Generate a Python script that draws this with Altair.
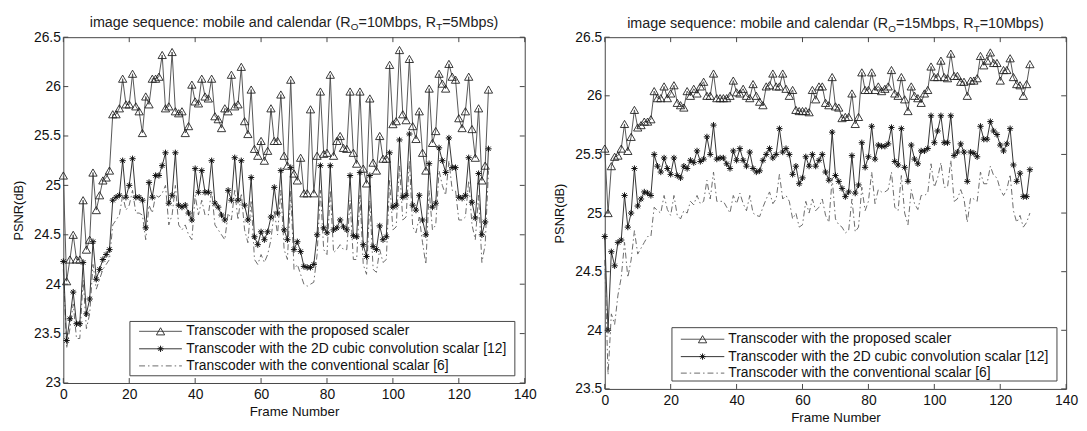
import altair as alt
import pandas as pd

frames = list(range(130))

left_proposed = [
    25.10, 24.03, 24.25, 24.50, 24.25, 24.25, 24.85, 24.35, 24.45, 25.13,
    24.75, 24.90, 25.05, 25.08, 25.15, 25.72, 25.72, 25.78, 26.08, 25.82,
    25.82, 26.13, 25.80, 25.75, 25.53, 25.90, 25.82, 26.08, 26.08, 26.10,
    26.32, 25.78, 25.80, 26.35, 25.75, 25.73, 25.75, 25.53, 25.60, 26.02,
    25.85, 25.83, 26.08, 25.90, 25.88, 26.08, 25.70, 25.67, 25.58, 25.78,
    25.75, 26.12, 25.80, 25.82, 26.20, 25.65, 25.52, 25.97, 25.37, 25.30,
    25.45, 25.25, 25.35, 25.78, 25.45, 25.45, 25.92, 25.30, 25.20, 26.07,
    25.12, 25.05, 25.28, 24.92, 24.92, 25.77, 24.92, 25.30, 25.95, 25.32,
    25.33, 26.12, 25.30, 25.45, 25.50, 25.38, 25.37, 25.95, 25.33, 25.22,
    25.95, 25.17, 25.02, 25.88, 25.23, 25.15, 25.50, 25.27, 25.27, 26.22,
    25.62, 25.65, 26.37, 25.72, 25.66, 26.28, 25.60, 25.47, 25.75, 25.33,
    25.15, 25.98, 25.43, 25.55, 26.13, 26.03, 25.98, 26.23, 26.10, 26.07,
    25.68, 25.58, 25.75, 26.10, 25.57, 25.28, 25.78, 25.05, 25.20, 25.97]

left_cubic = [
    24.23, 23.43, 23.65, 23.92, 23.60, 23.60, 24.22, 23.70, 23.85, 24.43,
    24.05, 24.15, 24.25, 24.30, 24.35, 24.85, 24.88, 24.90, 25.25, 24.88,
    25.00, 25.27, 24.88, 24.88, 24.85, 24.57, 25.03, 24.88, 25.10, 25.10,
    25.20, 25.33, 24.82, 24.90, 25.33, 24.80, 24.78, 24.80, 24.72, 24.65,
    25.17, 24.93, 25.15, 24.93, 24.93, 25.25, 24.82, 24.78, 24.70, 24.65,
    24.95, 24.85, 25.28, 24.85, 25.25, 24.80, 24.65, 25.08, 24.48, 24.40,
    24.53, 24.45, 24.53, 24.68, 24.98, 24.72, 25.15, 24.55, 24.45, 25.18,
    24.35, 24.43, 24.33, 24.18, 24.17, 24.17, 24.20, 24.50, 25.20, 24.57,
    24.52, 25.20, 24.55, 24.57, 24.65, 24.58, 24.55, 25.10, 24.49, 24.48,
    25.13, 24.40, 24.28, 25.10, 24.38, 24.35, 24.59, 24.45, 24.48, 25.33,
    24.78, 24.80, 25.46, 24.88, 24.90, 25.52, 24.80, 24.75, 24.90, 24.65,
    24.50, 25.22, 24.78, 24.82, 25.38, 25.25, 25.13, 25.48, 25.18, 25.18,
    24.88, 24.87, 24.90, 25.28, 24.83, 24.67, 25.12, 24.50, 24.63, 25.37]

left_conv = [
    24.15, 23.35, 23.55, 23.80, 23.45, 23.45, 24.05, 23.55, 23.70, 24.20,
    23.95, 24.05, 24.15, 24.20, 24.25, 24.60, 24.65, 24.70, 24.90, 24.75,
    24.80, 24.95, 24.72, 24.72, 24.70, 24.45, 24.80, 24.72, 24.90, 24.88,
    24.92, 25.00, 24.60, 24.70, 25.00, 24.60, 24.55, 24.60, 24.50, 24.45,
    24.90, 24.70, 24.85, 24.70, 24.70, 24.95, 24.60, 24.55, 24.50, 24.45,
    24.72, 24.65, 24.95, 24.65, 24.92, 24.55, 24.42, 24.85, 24.25, 24.20,
    24.30, 24.22, 24.30, 24.45, 24.75, 24.50, 24.95, 24.35, 24.25, 24.95,
    24.15, 24.20, 24.10, 24.00, 23.98, 24.00, 24.02, 24.30, 24.95, 24.35,
    24.30, 24.95, 24.32, 24.35, 24.40, 24.35, 24.35, 24.85, 24.25, 24.25,
    24.90, 24.20, 24.10, 24.85, 24.15, 24.12, 24.35, 24.22, 24.25, 25.05,
    24.55, 24.58, 25.20, 24.65, 24.68, 25.25, 24.58, 24.52, 24.68, 24.42,
    24.20, 24.95, 24.55, 24.60, 25.15, 25.00, 24.90, 25.25, 24.95, 24.95,
    24.65, 24.65, 24.68, 25.05, 24.60, 24.45, 24.90, 24.22, 24.40, 25.15]

right_proposed = [
    25.55, 25.00, 25.40, 25.48, 25.49, 25.55, 25.76, 25.53, 25.65, 25.88,
    25.73, 25.75, 25.78, 25.78, 25.80, 26.04, 25.98, 25.98, 26.08, 25.98,
    26.02, 26.09, 25.94, 25.92, 25.90, 26.04, 26.00, 26.06, 26.02, 26.08,
    26.12, 26.00, 26.00, 26.19, 25.98, 25.98, 25.98, 25.98, 26.00, 26.13,
    26.03, 26.02, 26.06, 26.00, 25.98, 26.10, 26.00, 25.95, 25.92, 26.08,
    26.09, 26.19, 26.08, 26.08, 26.19, 26.06, 26.00, 26.05, 25.88, 25.87,
    25.87, 25.87, 25.86, 26.05, 25.97, 26.08, 26.08, 25.94, 25.92, 26.16,
    25.91, 25.90, 25.81, 25.82, 25.82, 26.02, 25.76, 25.82, 26.20, 26.05,
    26.05, 26.20, 26.05, 26.08, 26.04, 26.06, 26.08, 26.22, 26.02, 26.00,
    26.16, 25.97, 25.87, 26.08, 26.00, 25.98, 25.94, 26.02, 26.05, 26.25,
    26.16, 26.16, 26.30, 26.16, 26.15, 26.36, 26.17, 26.17, 26.12, 26.12,
    26.00, 26.13, 26.13, 26.15, 26.34, 26.26, 26.30, 26.37, 26.28, 26.28,
    26.13, 26.22, 26.22, 26.32, 26.16, 26.10, 26.09, 26.00, 26.10, 26.27]

right_cubic = [
    24.80, 24.00, 24.67, 24.55, 24.75, 24.77, 25.15, 24.88, 25.00, 25.38,
    25.06, 25.12, 25.18, 25.17, 25.15, 25.50, 25.40, 25.35, 25.47, 25.38,
    25.33, 25.47, 25.32, 25.30, 25.40, 25.38, 25.45, 25.43, 25.53, 25.44,
    25.46, 25.65, 25.50, 25.75, 25.46, 25.47, 25.47, 25.42, 25.38, 25.53,
    25.45, 25.55, 25.45, 25.40, 25.52, 25.38, 25.35, 25.36, 25.45, 25.50,
    25.55, 25.47, 25.50, 25.72, 25.52, 25.55, 25.50, 25.33, 25.40, 25.25,
    25.30, 25.48, 25.40, 25.50, 25.40, 25.45, 25.50, 25.35, 25.28, 25.69,
    25.32, 25.27, 25.21, 25.14, 25.18, 25.49, 25.17, 25.24, 25.60, 25.39,
    25.48, 25.74, 25.46, 25.58, 25.57, 25.57, 25.59, 25.73, 25.44, 25.41,
    25.72, 25.39, 25.27, 25.58, 25.46, 25.42, 25.53, 25.53, 25.55, 25.83,
    25.60, 25.70, 25.83, 25.60, 25.60, 25.83, 25.49, 25.52, 25.59, 25.52,
    25.27, 25.52, 25.51, 25.48, 25.74, 25.63, 25.63, 25.78, 25.70, 25.67,
    25.58, 25.53, 25.59, 25.72, 25.41, 25.27, 25.34, 25.14, 25.14, 25.37]

right_conv = [
    24.60, 23.62, 24.14, 24.05, 24.30, 24.45, 24.75, 24.45, 24.60, 24.85,
    24.65, 24.70, 24.75, 24.80, 24.80, 25.05, 25.02, 25.00, 25.15, 25.03,
    24.98, 25.15, 24.98, 24.95, 25.02, 25.00, 25.10, 25.07, 25.15, 25.08,
    25.10, 25.28, 25.12, 25.35, 25.10, 25.10, 25.10, 25.05, 25.00, 25.15,
    25.08, 25.17, 25.08, 25.02, 25.15, 25.00, 24.98, 24.97, 25.05, 25.12,
    25.18, 25.08, 25.12, 25.33, 25.12, 25.15, 25.10, 24.95, 25.00, 24.88,
    24.90, 25.10, 25.00, 25.12, 25.02, 25.05, 25.12, 24.98, 24.92, 25.30,
    24.95, 24.90, 24.88, 24.83, 24.85, 25.12, 24.84, 24.88, 25.22, 25.02,
    25.10, 25.35, 25.08, 25.20, 25.18, 25.18, 25.20, 25.35, 25.05, 25.02,
    25.32, 25.00, 24.90, 25.20, 25.08, 25.03, 25.15, 25.15, 25.17, 25.42,
    25.22, 25.30, 25.43, 25.22, 25.22, 25.45, 25.10, 25.12, 25.20, 25.12,
    24.92, 25.13, 25.12, 25.10, 25.35, 25.25, 25.25, 25.40, 25.32, 25.30,
    25.20, 25.15, 25.20, 25.33, 25.02, 24.92, 24.98, 24.88, 24.92, 25.00]

x_ticks = [0, 20, 40, 60, 80, 100, 120, 140]
left_y_ticks = [23, 23.5, 24, 24.5, 25, 25.5, 26, 26.5]
right_y_ticks = [23.5, 24, 24.5, 25, 25.5, 26, 26.5]

legend_labels = [
    "Transcoder with the proposed scaler",
    "Transcoder with the 2D cubic convolution scalar [12]",
    "Transcoder with the conventional scalar [6]",
]

left_title = [("image sequence: mobile and calendar (R", False), ("O", True),
              ("=10Mbps, R", False), ("T", True), ("=5Mbps)", False)]
right_title = [("image sequence: mobile and calendar (R", False), ("O", True),
               ("=15Mbps, R", False), ("T", True), ("=10Mbps)", False)]

FONT = "Liberation Sans"
STAR = "M-1,0L1,0M0,-1L0,1M-0.7,-0.7L0.7,0.7M-0.7,0.7L0.7,-0.7"
DASHDOT = [6, 3, 1.5, 3]
TXT = 14

# Arial / Liberation Sans advance widths (per 1000 em)
ARIAL = {' ': 278, ':': 278, '(': 333, ')': 333, '=': 584, ',': 278, '.': 278,
         'a': 556, 'b': 556, 'c': 500, 'd': 556, 'e': 556, 'f': 278, 'g': 556,
         'h': 556, 'i': 222, 'j': 222, 'k': 500, 'l': 222, 'm': 833, 'n': 556,
         'o': 556, 'p': 556, 'q': 556, 'r': 333, 's': 500, 't': 278, 'u': 556,
         'v': 500, 'w': 722, 'x': 500, 'y': 500, 'z': 500,
         'R': 722, 'M': 833, 'O': 778, 'T': 611}


def tw(s, size):
    return sum(ARIAL.get(c, 556) for c in s) / 1000.0 * size


def panel(prop, cubic, conv, ydom, yticks, W, H, title_parts, title_y, leg):
    df = pd.DataFrame({"frame": frames, "prop": prop, "cubic": cubic, "conv": conv})
    xs = alt.Scale(domain=[0, 140], nice=False, zero=False)
    ys = alt.Scale(domain=ydom, nice=False, zero=False)
    xaxis = alt.Axis(values=x_ticks, title="Frame Number", ticks=False, domain=False,
                     grid=False, labelFontSize=TXT, titleFontSize=13.5, labelPadding=5,
                     titlePadding=3, labelFlush=False, labelFont=FONT, titleFont=FONT)
    yaxis = alt.Axis(values=yticks, title="PSNR(dB)", ticks=False, domain=False,
                     grid=False, labelFontSize=TXT, titleFontSize=13, labelPadding=3,
                     titlePadding=8, labelFont=FONT, titleFont=FONT,
                     format="~g")

    def X(field):
        return alt.X(field, scale=xs, axis=xaxis, title="Frame Number")

    def Y(field):
        return alt.Y(field, scale=ys, axis=yaxis, title="PSNR(dB)")

    base = alt.Chart(df)

    conv_line = base.mark_line(color="#6a6a6a", strokeWidth=1, strokeDash=DASHDOT).encode(
        x=X("frame:Q"), y=Y("conv:Q"))
    cubic_line = base.mark_line(color="#333333", strokeWidth=1).encode(
        x=X("frame:Q"), y=Y("cubic:Q"))
    cubic_pts = base.mark_point(shape=STAR, size=40, strokeWidth=1, color="#111111",
                                filled=False, opacity=1).encode(
        x=X("frame:Q"), y=Y("cubic:Q"))
    prop_line = base.mark_line(color="#555555", strokeWidth=1).encode(
        x=X("frame:Q"), y=Y("prop:Q"))
    prop_pts = base.mark_point(shape="triangle-up", size=70, strokeWidth=0.9,
                               color="#222222", filled=False, opacity=1).encode(
        x=X("frame:Q"), y=Y("prop:Q"))

    xt = alt.Chart(pd.DataFrame({"t": x_ticks}))
    yt = alt.Chart(pd.DataFrame({"t": yticks}))
    tick_col = "#444444"
    xt_bottom = xt.mark_rule(color=tick_col).encode(
        x=X("t:Q"), y=alt.value(H), y2=alt.value(H - 5))
    xt_top = xt.mark_rule(color=tick_col).encode(
        x=X("t:Q"), y=alt.value(0), y2=alt.value(5))
    yt_left = yt.mark_rule(color=tick_col).encode(
        y=Y("t:Q"), x=alt.value(0), x2=alt.value(5))
    yt_right = yt.mark_rule(color=tick_col).encode(
        y=Y("t:Q"), x=alt.value(W), x2=alt.value(W - 5))

    one = alt.Chart(pd.DataFrame({"k": [0]}))
    bx0, bx1, by0, by1, rows, lx0, lx1, mx, tx = leg
    layers = [conv_line, cubic_line, prop_line, cubic_pts, prop_pts,
              xt_bottom, xt_top, yt_left, yt_right]
    layers.append(one.mark_rect(fill="white", stroke="#444444", strokeWidth=1).encode(
        x=alt.value(bx0), x2=alt.value(bx1), y=alt.value(by0), y2=alt.value(by1)))
    styles = [("#555555", None), ("#333333", None), ("#6a6a6a", DASHDOT)]
    for i, (ry, label) in enumerate(zip(rows, legend_labels)):
        col, dash = styles[i]
        kw = {"color": col, "strokeWidth": 1}
        if dash:
            kw["strokeDash"] = dash
        layers.append(one.mark_rule(**kw).encode(
            x=alt.value(lx0), x2=alt.value(lx1), y=alt.value(ry)))
        if i == 0:
            layers.append(one.mark_point(shape="triangle-up", size=70, strokeWidth=0.9,
                                         color="#222222", filled=False, opacity=1).encode(
                x=alt.value(mx), y=alt.value(ry)))
        elif i == 1:
            layers.append(one.mark_point(shape=STAR, size=40, strokeWidth=1,
                                         color="#111111", filled=False, opacity=1).encode(
                x=alt.value(mx), y=alt.value(ry)))
        layers.append(one.mark_text(align="left", baseline="middle", fontSize=TXT,
                                    font=FONT, color="#111111").encode(
            x=alt.value(tx), y=alt.value(ry), text=alt.value(label)))

    # title with subscripts
    main_size, sub_size = 14.5, 10
    total = sum(tw(s, sub_size if sub else main_size) for s, sub in title_parts)
    pos = W / 2.0 - total / 2.0
    for s, sub in title_parts:
        size = sub_size if sub else main_size
        layers.append(one.mark_text(align="left", baseline="alphabetic", fontSize=size,
                                    font=FONT, color="#222222").encode(
            x=alt.value(pos), y=alt.value(title_y + (3.5 if sub else 0)),
            text=alt.value(s)))
        pos += tw(s, size)

    return alt.layer(*layers).properties(width=W, height=H)


left = panel(left_proposed, left_cubic, left_conv, [23, 26.5], left_y_ticks, 467, 350,
             left_title, -10.5,
             (67.4, 457, 287.7, 342.7, [297.7, 315.4, 332.7], 76.7, 120, 98.4, 124.4))
right = panel(right_proposed, right_cubic, right_conv, [23.5, 26.5], right_y_ticks, 467, 356,
              right_title, -9,
              (68, 457.7, 294, 348, [305.7, 323.3, 340], 77, 121, 99, 125))

chart = alt.hconcat(left, right, spacing=16).properties(
    padding={"left": 4, "top": 4, "right": 0, "bottom": 0},
    background="white",
).configure_view(stroke="#444444", strokeWidth=1).configure_axis(
    labelColor="#111111", titleColor="#111111", titleFontWeight="normal")

chart.save("out.html", embed_options={"renderer": "svg", "actions": False})
